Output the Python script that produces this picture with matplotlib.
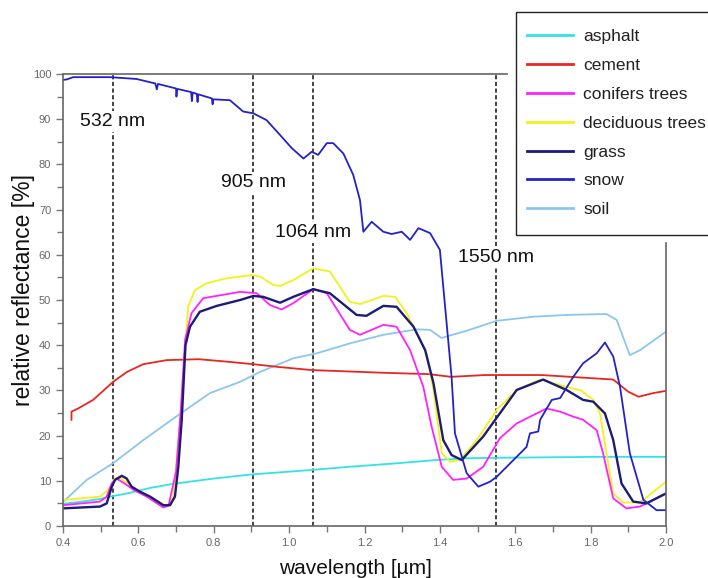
import matplotlib
matplotlib.use("Agg")
import matplotlib.pyplot as plt
from matplotlib.ticker import MultipleLocator
from matplotlib.patches import Rectangle

plt.rcParams['font.family'] = ['Liberation Sans', 'DejaVu Sans']

# ---------------- data ----------------
asphalt_wl = [0.40, 0.45, 0.50, 0.525, 0.57, 0.63, 0.69, 0.80, 0.90, 1.06, 1.16, 1.29, 1.39, 1.47, 1.56, 1.82, 2.00]
asphalt = [4.9, 5.4, 6.0, 6.5, 7.2, 8.4, 9.3, 10.5, 11.4, 12.4, 13.1, 13.9, 14.6, 15.0, 15.1, 15.3, 15.3]

cement_wl = [0.4225, 0.4226, 0.44, 0.48, 0.533, 0.57, 0.613, 0.675, 0.76, 0.83, 0.905, 0.97, 1.06, 1.25,
             1.37, 1.43, 1.52, 1.67, 1.86, 1.90, 1.927, 1.966, 2.0]
cement = [23.5, 25.3, 26.0, 27.9, 31.9, 34.1, 35.8, 36.7, 36.9, 36.4, 35.8, 35.2, 34.5, 33.9,
          33.6, 33.0, 33.4, 33.4, 32.4, 29.7, 28.6, 29.4, 29.9]

conifers_wl = [0.40, 0.498, 0.516, 0.529, 0.542, 0.569, 0.587, 0.622, 0.666, 0.68, 0.70, 0.712, 0.724, 0.741,
               0.772, 0.87, 0.914, 0.949, 0.98, 1.011, 1.064, 1.10, 1.161, 1.188, 1.25, 1.285, 1.321, 1.356,
               1.378, 1.405, 1.435, 1.471, 1.515, 1.559, 1.604, 1.683, 1.719, 1.754, 1.78, 1.816, 1.833, 1.86,
               1.895, 1.931, 2.0]
conifers = [4.6, 5.4, 6.5, 9.4, 10.5, 9.1, 8.0, 6.5, 4.1, 4.5, 12.0, 25.0, 41.2, 47.1,
            50.4, 51.8, 51.5, 48.9, 47.9, 49.3, 52.4, 51.5, 43.4, 42.3, 44.5, 44.1, 38.9, 30.8,
            22.0, 13.1, 10.2, 10.5, 13.1, 19.4, 22.7, 26.0, 25.3, 24.2, 23.5, 21.2, 16.1, 6.1,
            3.9, 4.3, 7.2]

deciduous_wl = [0.40, 0.498, 0.52, 0.538, 0.547, 0.57, 0.60, 0.63, 0.675, 0.693, 0.715, 0.732, 0.75, 0.781,
                0.834, 0.90, 0.923, 0.958, 0.976, 1.011, 1.064, 1.108, 1.161, 1.188, 1.25, 1.281, 1.312,
                1.365, 1.383, 1.405, 1.427, 1.453, 1.498, 1.551, 1.604, 1.666, 1.736, 1.776, 1.807, 1.825,
                1.842, 1.86, 1.886, 1.931, 2.0]
deciduous = [5.75, 6.5, 8.0, 10.5, 10.8, 9.6, 7.8, 6.6, 4.4, 6.5, 27.9, 48.5, 52.2, 53.7,
             54.8, 55.5, 55.2, 53.3, 53.1, 54.4, 57.0, 56.3, 49.6, 49.1, 50.9, 50.7, 47.1,
             38.2, 30.1, 16.1, 14.2, 14.6, 19.0, 25.7, 30.1, 32.4, 30.8, 29.9, 27.9, 24.9,
             16.1, 7.2, 5.2, 5.2, 9.8]

grass_wl = [0.40, 0.498, 0.516, 0.529, 0.538, 0.556, 0.569, 0.582, 0.604, 0.631, 0.666, 0.684, 0.697, 0.706,
            0.715, 0.725, 0.737, 0.763, 0.808, 0.87, 0.905, 0.931, 0.976, 1.011, 1.064, 1.108, 1.179, 1.205,
            1.25, 1.285, 1.33, 1.361, 1.383, 1.409, 1.431, 1.458, 1.515, 1.559, 1.604, 1.674, 1.736, 1.78,
            1.807, 1.838, 1.86, 1.882, 1.913, 1.948, 2.0]
grass = [3.9, 4.3, 5.0, 8.6, 10.2, 11.1, 10.5, 8.7, 7.6, 6.5, 4.6, 4.6, 6.5, 13.1,
         23.5, 40.0, 44.1, 47.4, 48.7, 50.0, 50.9, 50.7, 49.4, 50.7, 52.4, 51.5, 46.7, 46.5,
         48.7, 48.5, 44.1, 38.9, 31.6, 19.0, 15.7, 14.6, 19.8, 24.9, 30.1, 32.4, 30.1, 27.9,
         27.5, 24.9, 19.0, 9.4, 5.4, 5.0, 7.2]

snow_wl = [0.40, 0.41, 0.427, 0.525, 0.595, 0.645, 0.649, 0.652, 0.70, 0.701, 0.703, 0.74, 0.742, 0.744,
           0.755, 0.757, 0.759, 0.795, 0.797, 0.799, 0.843, 0.878, 0.905, 0.94, 0.976, 1.007, 1.038,
           1.06, 1.077, 1.10, 1.117, 1.144, 1.17, 1.188, 1.197, 1.219, 1.25, 1.272, 1.299, 1.321, 1.343,
           1.374, 1.40, 1.431, 1.44, 1.471, 1.502, 1.533, 1.551, 1.63, 1.639, 1.661, 1.666, 1.697,
           1.719, 1.754, 1.78, 1.816, 1.838, 1.86, 1.878, 1.904, 1.94, 1.975, 2.0]
snow = [98.7, 98.8, 99.3, 99.3, 98.9, 97.9, 96.6, 97.8, 96.8, 95.0, 96.7, 96.0, 94.0, 95.9,
        95.6, 93.8, 95.5, 94.6, 93.3, 94.4, 94.2, 91.7, 91.3, 89.8, 86.5, 83.6, 81.3,
        82.8, 82.1, 84.7, 84.7, 82.4, 77.7, 72.1, 65.1, 67.3, 65.1, 64.6, 65.1, 63.3, 65.9,
        64.8, 61.1, 33.0, 20.5, 11.7, 8.7, 9.8, 10.9, 17.5, 20.5, 20.9, 23.5, 27.9,
        28.3, 33.0, 36.0, 38.2, 40.6, 37.5, 30.8, 16.1, 5.8, 3.5, 3.5]

soil_wl = [0.40, 0.463, 0.533, 0.613, 0.70, 0.79, 0.87, 0.923, 1.011, 1.073, 1.161, 1.25, 1.338, 1.374,
           1.404, 1.471, 1.551, 1.648, 1.736, 1.842, 1.869, 1.904, 1.931, 2.0]
soil = [5.3, 10.2, 13.9, 19.0, 24.2, 29.4, 31.9, 34.1, 37.1, 38.2, 40.4, 42.3, 43.5, 43.4,
        41.6, 43.2, 45.4, 46.3, 46.7, 46.9, 45.6, 37.8, 38.9, 43.0]

laser_nm = [532, 905, 1064, 1550]
laser_labels = ["532 nm", "905 nm", "1064 nm", "1550 nm"]
label_y = [89.5, 76.0, 65.0, 59.5]

# ---------------- figure ----------------
W, H = 708, 578
fig = plt.figure(figsize=(W / 100, H / 100), dpi=100)
ax = fig.add_axes([63 / W, 52 / H, 603 / W, 452 / H])

series = [
    ("asphalt", asphalt_wl, asphalt, "#33E3E3", 1.3),
    ("cement", cement_wl, cement, "#E8261F", 1.3),
    ("conifers trees", conifers_wl, conifers, "#FF22FF", 1.3),
    ("deciduous trees", deciduous_wl, deciduous, "#F2F21A", 1.3),
    ("grass", grass_wl, grass, "#1C1C78", 1.7),
    ("snow", snow_wl, snow, "#2222C8", 1.3),
    ("soil", soil_wl, soil, "#8CC6F0", 1.3),
]
order = [6, 0, 1, 3, 2, 4, 5]
handles = {}
for i in order:
    name, wl, val, col, lw = series[i]
    h, = ax.plot(wl, val, color=col, lw=lw, label=name)
    handles[name] = h

for nm, lab, ly in zip(laser_nm, laser_labels, label_y):
    x = nm / 1000.0
    ax.axvline(x, color="#222222", ls=(0, (2.5, 1.5)), lw=1.2, zorder=1)
    ax.text(x, ly, lab, ha="center", va="center", fontsize=14, color="#111111",
            bbox=dict(facecolor="white", edgecolor="none", pad=1.5), zorder=5)

ax.set_xlim(0.4, 2.0)
ax.set_ylim(0, 100)
ax.xaxis.set_major_locator(MultipleLocator(0.2))
ax.xaxis.set_minor_locator(MultipleLocator(0.1))
ax.yaxis.set_major_locator(MultipleLocator(10))
ax.yaxis.set_minor_locator(MultipleLocator(5))
ax.xaxis.set_major_formatter(plt.FuncFormatter(lambda v, p: f"{v:.1f}"))
ax.tick_params(which="both", direction="out", colors="#777777", labelcolor="#666666",
               labelsize=8, width=1)
ax.tick_params(which="major", length=5)
ax.tick_params(which="minor", length=4)

for s in ax.spines.values():
    s.set_color("#666666")
    s.set_linewidth(1.2)
ax.spines["top"].set_bounds(0.4, 1.578)
ax.spines["right"].set_bounds(0, 62.6)

ax.set_xlabel("wavelength [µm]", fontsize=15, color="#111111")
ax.xaxis.set_label_coords(0.485, -0.073)
ax.set_ylabel("relative reflectance [%]", fontsize=16.5, color="#111111", va="center")
ax.yaxis.set_label_coords(-0.066, 0.522)

# legend frame (extends past the right edge of the figure, as in the reference)
frame = Rectangle((516 / W, 1 - 235 / H), 0.5, 223 / H, transform=fig.transFigure,
                  facecolor="white", edgecolor="#222222", lw=1.0, zorder=4)
fig.patches.append(frame)

names = ["asphalt", "cement", "conifers trees", "deciduous trees", "grass", "snow", "soil"]
leg = fig.legend([handles[n] for n in names], names, loc="upper left",
                 bbox_to_anchor=(527 / W, 1 - 29 / H), borderaxespad=0, frameon=False,
                 fontsize=12.5, handlelength=2.65, handletextpad=0.58,
                 labelspacing=0.79, borderpad=0)
leg.set_zorder(6)
for line in leg.get_lines():
    line.set_linewidth(2.0)
for t in leg.get_texts():
    t.set_color("#222222")

fig.savefig("out.png", dpi=100)
